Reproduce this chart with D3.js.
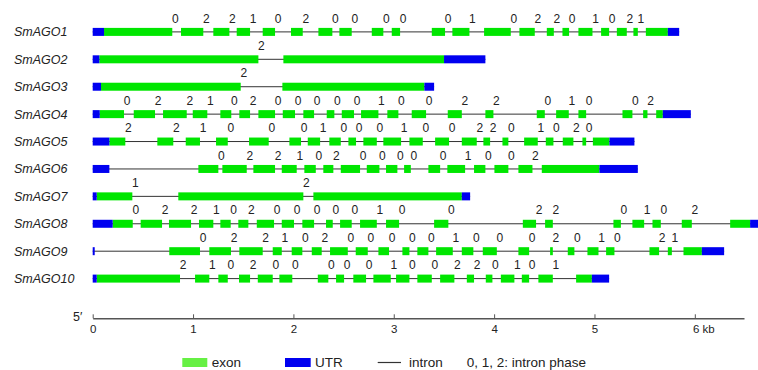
<!DOCTYPE html>
<html>
<head>
<meta charset="utf-8">
<script src="https://cdn.jsdelivr.net/npm/d3@7/dist/d3.min.js"></script>
<style>
  body { margin: 0; background: #fff; }
  text { font-family: "Liberation Sans", Arial, sans-serif; fill: #222; }
</style>
</head>
<body>
<div id="chart"></div>
<script>
// gene names, top to bottom
const genes = ['SmAGO1', 'SmAGO2', 'SmAGO3', 'SmAGO4', 'SmAGO5',
               'SmAGO6', 'SmAGO7', 'SmAGO8', 'SmAGO9', 'SmAGO10'];

// UTR segments per gene, kb from 5' end
const utrs = [
  [[0, 0.113], [5.731, 5.844]],
  [[0, 0.066], [3.501, 3.913]],
  [[0, 0.083], [3.305, 3.402]],
  [[0, 0.070], [5.681, 5.960]],
  [[0, 0.166], [5.149, 5.398]],
  [[0, 0.166], [5.049, 5.432]],
  [[0, 0.040], [3.678, 3.761]],
  [[0, 0.199], [6.551, 6.65]],
  [[0, 0.02], [6.070, 6.292]],
  [[0, 0.040], [4.974, 5.146]]
];

// coding exons per gene, kb
const exons = [
  [[0.113, 0.793], [0.880, 1.102], [1.202, 1.362], [1.435, 1.568], [1.694, 1.817],
   [1.976, 2.093], [2.249, 2.388], [2.458, 2.581], [2.781, 2.896], [2.980, 3.063],
   [3.379, 3.511], [3.584, 3.754], [3.900, 4.166], [4.252, 4.405], [4.525, 4.595],
   [4.681, 4.747], [4.840, 4.980], [5.066, 5.146], [5.223, 5.322], [5.388, 5.432],
   [5.512, 5.731]],
  [[0.066, 1.651], [1.900, 3.501]],
  [[0.083, 1.475], [1.890, 3.305]],
  [[0.070, 0.312], [0.409, 0.621], [0.701, 0.937], [0.997, 1.142], [1.272, 1.381],
   [1.461, 1.568], [1.651, 1.817], [1.894, 2.016], [2.099, 2.206], [2.332, 2.408],
   [2.482, 2.604], [2.674, 2.847], [2.936, 3.046], [3.179, 3.322], [3.538, 3.678],
   [3.913, 3.993], [4.425, 4.505], [4.618, 4.744], [4.840, 4.917], [5.279, 5.378],
   [5.485, 5.528], [5.615, 5.681]],
  [[0.166, 0.325], [0.644, 0.803], [0.927, 1.069], [1.229, 1.346], [1.558, 1.754],
   [1.960, 2.076], [2.143, 2.266], [2.358, 2.472], [2.548, 2.624], [2.697, 2.831],
   [2.896, 3.073], [3.156, 3.289], [3.412, 3.551], [3.678, 3.827], [3.893, 3.960],
   [4.083, 4.142], [4.299, 4.435], [4.515, 4.591], [4.684, 4.790], [4.880, 4.917],
   [4.984, 5.149]],
  [[1.053, 1.252], [1.292, 1.535], [1.601, 1.817], [1.884, 2.033], [2.109, 2.223],
   [2.298, 2.398], [2.472, 2.664], [2.731, 2.857], [2.923, 3.036], [3.103, 3.170],
   [3.345, 3.462], [3.534, 3.711], [3.800, 3.913], [4.003, 4.142], [4.242, 4.382],
   [4.475, 5.049]],
  [[0.040, 0.395], [0.853, 2.099], [2.199, 3.678]],
  [[0.199, 0.399], [0.478, 0.691], [0.760, 0.980], [1.059, 1.202], [1.272, 1.375],
   [1.451, 1.551], [1.635, 1.807], [1.884, 2.006], [2.089, 2.206], [2.325, 2.392],
   [2.465, 2.581], [2.664, 2.831], [2.923, 3.053], [3.402, 3.544], [4.286, 4.418],
   [4.508, 4.585], [5.189, 5.263], [5.378, 5.495], [5.578, 5.661], [5.870, 5.970],
   [6.352, 6.551]],
  [[0.763, 1.069], [1.162, 1.378], [1.461, 1.694], [1.794, 1.884], [1.983, 2.089],
   [2.183, 2.282], [2.365, 2.542], [2.621, 2.741], [2.847, 2.953], [3.086, 3.156],
   [3.235, 3.345], [3.422, 3.588], [3.678, 3.793], [3.887, 4.027], [4.242, 4.349],
   [4.558, 4.585], [4.734, 4.800], [4.930, 5.040], [5.116, 5.199], [5.548, 5.644],
   [5.731, 5.771], [5.887, 6.070]],
  [[0.040, 0.870], [1.020, 1.162], [1.252, 1.346], [1.458, 1.568], [1.645, 1.794],
   [1.860, 1.989], [2.243, 2.348], [2.425, 2.505], [2.597, 2.724], [2.797, 2.970],
   [3.023, 3.156], [3.235, 3.379], [3.462, 3.604], [3.728, 3.800], [3.917, 3.983],
   [4.067, 4.202], [4.276, 4.349], [4.441, 4.585], [4.817, 4.974]]
];

// intron phases, one per intron between coding exons
const phases = [
  [0, 2, 2, 1, 0, 2, 0, 0, 0, 0, 0, 1, 0, 2, 2, 0, 1, 0, 2, 1],
  [2],
  [2],
  [0, 2, 2, 1, 0, 2, 0, 0, 0, 0, 0, 1, 0, 0, 2, 2, 0, 1, 0, 0, 2],
  [2, 2, 1, 0, 0, 0, 1, 0, 0, 0, 1, 0, 0, 2, 2, 0, 1, 0, 2, 0],
  [0, 2, 2, 1, 0, 2, 0, 0, 0, 0, 0, 1, 0, 0, 2],
  [1, 2],
  [0, 2, 2, 1, 0, 2, 0, 0, 0, 0, 0, 1, 0, 0, 2, 2, 0, 1, 0, 2],
  [0, 2, 2, 1, 0, 2, 0, 0, 0, 0, 0, 1, 0, 0, 0, 2, 0, 1, 0, 2, 1],
  [2, 1, 0, 2, 0, 0, 0, 0, 0, 1, 0, 0, 2, 2, 0, 1, 0, 1]
];

const kbTicks = [0, 1, 2, 3, 4, 5, 6];

const width = 758;
const height = 370;
const exonColor = '#00e600';
const utrColor = '#0000f0';
const barH = 8;

const svg = d3.select('#chart')
  .append('svg')
  .attr('width', width)
  .attr('height', height);

const x = d3.scaleLinear().domain([0, 6.49]).range([92.7, 744]);
const y = d3.scalePoint().domain(genes).range([31.9, 278.6]);

genes.forEach((name, i) => {
  const g = svg.append('g').attr('class', 'gene');
  const cy = y(name);
  const all = utrs[i].concat(exons[i]);
  const start = d3.min(all, d => d[0]);
  const end = d3.max(all, d => d[1]);

  // intron backbone
  g.append('line')
    .attr('x1', x(start)).attr('x2', x(end))
    .attr('y1', cy).attr('y2', cy)
    .style('stroke', '#333')
    .style('stroke-width', 1);

  g.selectAll('.exon')
    .data(exons[i])
    .enter()
    .append('rect')
    .attr('class', 'exon')
    .attr('x', d => x(d[0]))
    .attr('width', d => x(d[1]) - x(d[0]))
    .attr('y', cy - barH / 2)
    .attr('height', barH)
    .style('fill', exonColor);

  g.selectAll('.utr')
    .data(utrs[i])
    .enter()
    .append('rect')
    .attr('class', 'utr')
    .attr('x', d => x(d[0]))
    .attr('width', d => x(d[1]) - x(d[0]))
    .attr('y', cy - barH / 2)
    .attr('height', barH)
    .style('fill', utrColor);

  // phase labels sit just after the end of each coding exon
  g.selectAll('.phase')
    .data(phases[i])
    .enter()
    .append('text')
    .attr('class', 'phase')
    .attr('x', (d, j) => x(exons[i][j][1] + 0.03))
    .attr('y', cy - 9.3)
    .style('text-anchor', 'middle')
    .style('font-size', '12px')
    .text(d => d);

  g.append('text')
    .attr('x', 14)
    .attr('y', cy + 4.5)
    .style('font-size', '12.5px')
    .style('font-style', 'italic')
    .text(name);
});

// scale bar
const axisY = 318.3;
const axis = svg.append('g')
  .attr('transform', `translate(0,${axisY})`)
  .call(d3.axisBottom(x)
    .tickValues(kbTicks)
    .tickSizeInner(-4)
    .tickSizeOuter(0)
    .tickPadding(7)
    .tickFormat(d => d === 6 ? '6 kb' : d));

axis.select('.domain').style('stroke', '#555').style('stroke-width', 1.5);
axis.selectAll('.tick line').style('stroke', '#555');
axis.selectAll('.tick text')
  .style('font-size', '11.5px')
  .style('font-family', '"Liberation Sans", Arial, sans-serif')
  .style('fill', '#222');
axis.selectAll('.tick text')
  .filter(d => d === 6)
  .style('text-anchor', 'start')
  .attr('dx', '-0.2em');

svg.append('text')
  .attr('x', 73)
  .attr('y', 321)
  .style('font-size', '12.5px')
  .text('5\u2032');

// legend
const legY = 362.5;
const leg = svg.append('g').style('font-size', '13.5px');
leg.append('rect').attr('x', 182.3).attr('y', legY - 4.5).attr('width', 25).attr('height', 9)
  .style('fill', '#66f044');
leg.append('text').attr('x', 211.7).attr('y', legY + 4.7).text('exon');
leg.append('rect').attr('x', 285).attr('y', legY - 4.5).attr('width', 25.7).attr('height', 9)
  .style('fill', utrColor);
leg.append('text').attr('x', 315).attr('y', legY + 4.7).text('UTR');
leg.append('line').attr('x1', 377.7).attr('x2', 401).attr('y1', legY).attr('y2', legY)
  .style('stroke', '#333').style('stroke-width', 1.2);
leg.append('text').attr('x', 409).attr('y', legY + 4.7).text('intron');
leg.append('text').attr('x', 466.7).attr('y', legY + 4.7).text('0, 1, 2: intron phase');
</script>
</body>
</html>
